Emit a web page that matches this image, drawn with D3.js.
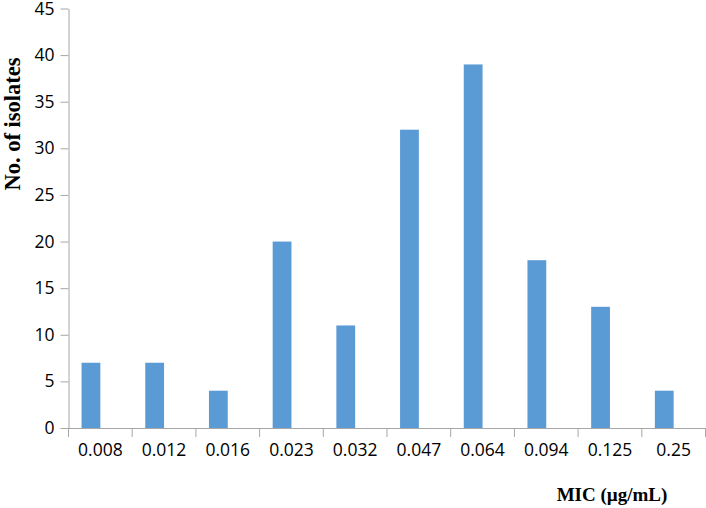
<!DOCTYPE html>
<html><head><meta charset="utf-8">
<script src="https://cdn.jsdelivr.net/npm/d3@7"></script>
<style>body{margin:0;background:#fff}svg{display:block}</style>
</head><body>
<svg id="c" width="706" height="508"></svg>
<script>
const categories = ["0.008","0.012","0.016","0.023","0.032","0.047","0.064","0.094","0.125","0.25"];
const values = [7,7,4,20,11,32,39,18,13,4];
const yTicks = [0,5,10,15,20,25,30,35,40,45];

const svg = d3.select("#c");
const L = 68.5, R = 705.5, T = 8.5, B = 428;
const axisColor = "#a6a6a6";
const x = d3.scaleBand().domain(categories).range([L, R]).paddingInner(0).paddingOuter(0);
const y = d3.scaleLinear().domain([0,45]).range([B, T]);

// bars (Excel clustered style offset)
const bw = x.bandwidth();
svg.append("g").selectAll("rect").data(values).join("rect")
  .attr("x", (d,i) => x(categories[i]) + bw*0.205)
  .attr("width", bw*0.295)
  .attr("y", d => y(d))
  .attr("height", d => B - y(d))
  .attr("fill", "#5b9bd5");

// y axis
const ya = svg.append("g").attr("transform", `translate(${L},0)`)
  .call(d3.axisLeft(y).tickValues(yTicks).tickSize(8).tickPadding(6).tickSizeOuter(0));
ya.select(".domain").attr("stroke", axisColor);
ya.selectAll(".tick line").attr("stroke", axisColor);
ya.selectAll(".tick text").attr("font-family","Open Sans").attr("font-size",17.5).attr("fill","#000");

// x axis
const xa = svg.append("g").attr("transform", `translate(0,${B})`)
  .call(d3.axisBottom(x).tickSize(0).tickPadding(16).tickSizeOuter(0));
xa.select(".domain").attr("stroke", axisColor);
xa.selectAll(".tick text").attr("font-family","Open Sans").attr("font-size",17.5).attr("fill","#000");
const edges = categories.map(c => x(c)).concat([x(categories[categories.length-1]) + bw]);
xa.selectAll("line.edge").data(edges).join("line").attr("class","edge")
  .attr("x1", d => d).attr("x2", d => d).attr("y1", 0).attr("y2", 9)
  .attr("stroke", axisColor);

// titles
svg.append("text").attr("transform", "translate(19.5,124) rotate(-90)")
  .attr("text-anchor","middle").attr("font-family","Liberation Serif")
  .attr("font-weight","bold").attr("font-size",22.5).text("No. of isolates");
svg.append("text").attr("x", 612).attr("y", 501)
  .attr("text-anchor","middle").attr("font-family","Liberation Serif")
  .attr("font-weight","bold").attr("font-size",19).text("MIC (µg/mL)");
</script>
</body></html>
